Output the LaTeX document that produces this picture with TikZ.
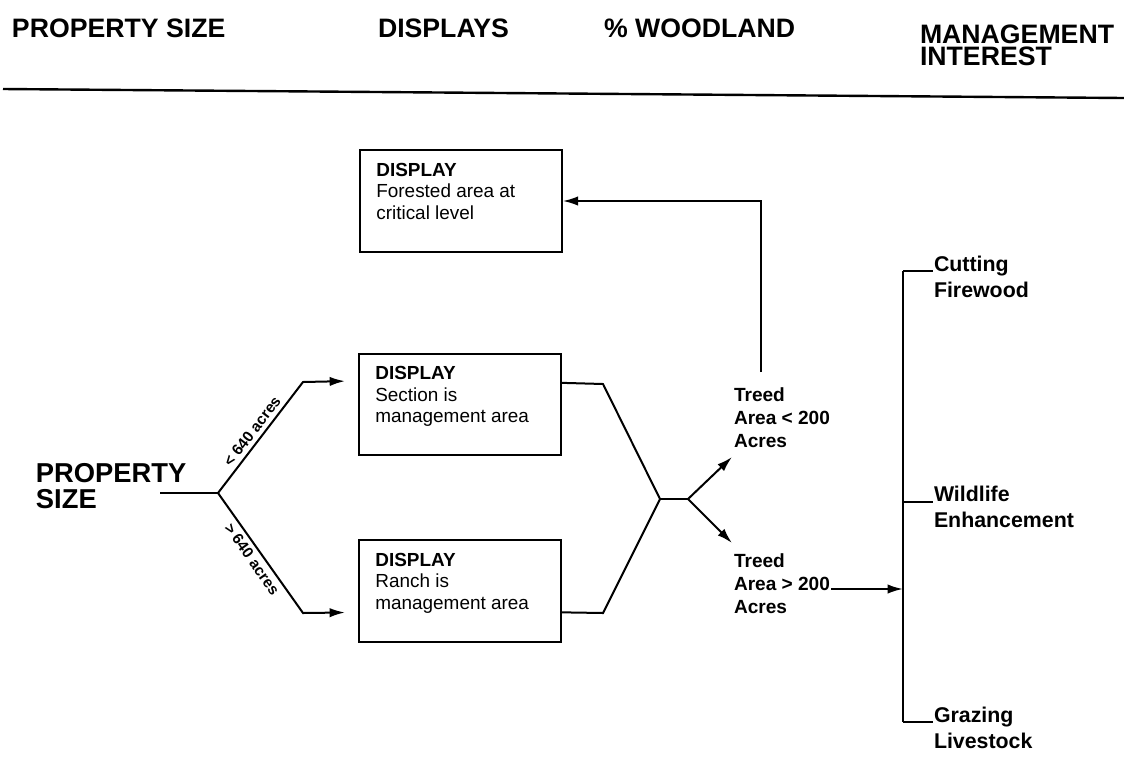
\documentclass[tikz,border=0pt]{standalone}
\usepackage{fontspec}
\setmainfont{Liberation Sans}
\usetikzlibrary{arrows.meta, calc, positioning}

\begin{document}
\begin{tikzpicture}[x=0.75pt, y=-0.75pt, line width=1.5pt,
    >={Latex[length=11.5pt, width=7pt]},
    hdr/.style={anchor=base west, inner sep=0, align=left, font=\fontsize{20}{16.5}\selectfont\bfseries},
    dbox/.style={draw, minimum width=151pt, minimum height=76pt, inner sep=0},
    btxt/.style={anchor=base west, inner sep=0, align=left, font=\fontsize{14.2}{16.1}\selectfont},
    lbl/.style={anchor=base west, inner sep=0, align=left, font=\fontsize{14.3}{16.9}\selectfont\bfseries},
    mgt/.style={anchor=base west, inner sep=0, align=left, font=\fontsize{16}{19}\selectfont\bfseries},
    acr/.style={font=\fontsize{11.5}{12}\selectfont\bfseries, sloped, midway, inner sep=3pt}]
    \useasboundingbox (0,0) rectangle (1124,758);

    % 1. Column headings (base = last line)
    \node[hdr] (hps) at (11,37) {PROPERTY SIZE};
    \node[hdr] (hdi) at (377,37) {DISPLAYS};
    \node[hdr] (hwo) at (603,37) {\% WOODLAND};
    \node[hdr] (hmi) at (919,65) {MANAGEMENT\\INTEREST};
    \coordinate (rl) at (3,89);
    \coordinate (rr) at (1124,98);
    \draw[line width=1.8pt] (rl) -- (rr);

    % 2. Display boxes
    \node[dbox] (fa) at (461,201) {};
    \node[dbox] (sec) at (460,404.5) {};
    \node[dbox] (ran) at (460,591) {};
    \node[btxt] (fat) at ($(fa.north west)+(16,70)$) {\textbf{DISPLAY}\\Forested area at\\critical level};
    \node[btxt] (sect) at ($(sec.north west)+(16,70)$) {\textbf{DISPLAY}\\Section is\\management area};
    \node[btxt] (rant) at ($(ran.north west)+(16,70)$) {\textbf{DISPLAY}\\Ranch is\\management area};

    % 3. Property size split
    \node[hdr, font=\fontsize{20.5}{19.5}\selectfont\bfseries] (ps) at (35,508) {PROPERTY\\SIZE};
    \coordinate (pin) at (160,493);
    \coordinate (jl) at (218,493);
    \draw (pin) -- (jl);
    \draw[->, shorten >=10pt] (jl) -- node[acr, above] {< 640 acres} (303,382)
        -- ($(sec.north west)+(0,28)$);
    \draw[->, shorten >=10pt] (jl) -- node[acr, below] {> 640 acres} (303,613)
        -- ($(ran.north west)+(0,73)$);

    % 4. Woodland split
    \coordinate (rj) at (660,499);
    \coordinate (fk) at (688,499);
    \draw ($(sec.north east)+(0,30)$) -- (603,384) -- (rj) -- (603,613)
        -- ($(ran.north east)+(0,73)$);
    \draw (rj) -- (fk);
    \node[lbl] (tl) at (733,447) {Treed\\Area < 200\\Acres};
    \node[lbl] (tg) at (733,613) {Treed\\Area > 200\\Acres};
    \coordinate (lt) at (732,457);
    \coordinate (gt) at (732,543);
    \draw[->] (fk) -- (lt);
    \draw[->] (fk) -- (gt);
    \coordinate (tu) at (761,372);
    \draw[->] (tu) |- (fa.east);

    % 5. Management interest
    \coordinate (bt) at (903,271);
    \coordinate (bm) at (903,502);
    \coordinate (bb) at (903,722);
    \draw (bt) -- (bb);
    \coordinate (ga) at (831,589);
    \coordinate (gb) at (903,589);
    \draw[->] (ga) -- (gb);
    \node[mgt] (cf) at (933,297) {Cutting\\Firewood};
    \node[mgt] (we) at (933,527) {Wildlife\\Enhancement};
    \node[mgt] (gl) at (933,748) {Grazing\\Livestock};
    \draw (bt) -- (cf.west |- bt);
    \draw (bm) -- (we.west |- bm);
    \draw (bb) -- (gl.west |- bb);
\end{tikzpicture}
\end{document}
